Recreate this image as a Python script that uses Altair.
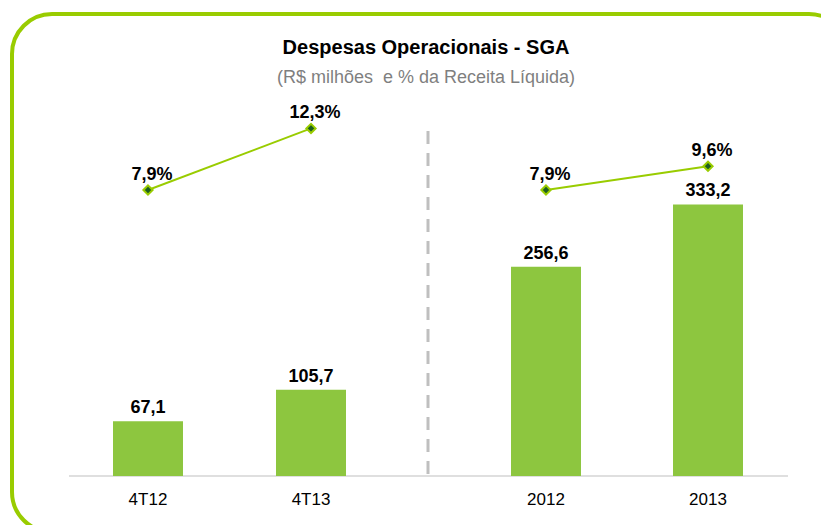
import altair as alt
import pandas as pd

# ---- data ----
periodos_tri = ["4T12", "4T13"]
despesas_tri = [67.1, 105.7]
pct_tri = [7.9, 12.3]

periodos_ano = ["2012", "2013"]
despesas_ano = [256.6, 333.2]
pct_ano = [7.9, 9.6]

titulo = "Despesas Operacionais - SGA"
subtitulo = "(R$ milhões\u00a0 e % da Receita Líquida)"


def fmt(v):
    return f"{v:.1f}".replace(".", ",")


def make_df(periodos, despesas, pcts):
    return pd.DataFrame({
        "periodo": periodos,
        "despesa": despesas,
        "pct": pcts,
        "rot_desp": [fmt(v) for v in despesas],
        "rot_pct": [fmt(v) + "%" for v in pcts],
    })


df_tri = make_df(periodos_tri, despesas_tri, pct_tri)
df_ano = make_df(periodos_ano, despesas_ano, pct_ano)

W, H = 718, 376
BAR_DOMAIN = [0, 461.3]
PCT_DOMAIN = [-12.53, 14.33]
FONT = "Liberation Sans"
BAR_COLOR = "#8DC63F"
LINE_COLOR = "#99CC00"


def group(df, order, xrange, pinner):
    xscale = alt.Scale(type="band", domain=order, range=xrange,
                       paddingInner=pinner, paddingOuter=0)
    x_axis = alt.X(
        "periodo:N", scale=xscale, sort=order, title=None,
        axis=alt.Axis(orient="bottom", labelAngle=0, labelFont=FONT, labelFontSize=17,
                      labelColor="#000000", labelPadding=15, ticks=False,
                      domain=False, grid=False),
    )
    x_na = alt.X("periodo:N", scale=xscale, sort=order, axis=None)
    ybar = alt.Y("despesa:Q", scale=alt.Scale(domain=BAR_DOMAIN, nice=False, zero=True), axis=None)
    ypct = alt.Y("pct:Q", scale=alt.Scale(domain=PCT_DOMAIN, nice=False, zero=False), axis=None)
    base = alt.Chart(df)
    bars = base.mark_bar(color=BAR_COLOR).encode(x=x_axis, y=ybar)
    bar_txt = base.mark_text(baseline="bottom", dy=-4, font=FONT, fontSize=18,
                             fontWeight="bold", color="#000000").encode(
        x=x_na, y=ybar, text="rot_desp:N")
    line = base.mark_line(color=LINE_COLOR, strokeWidth=2).encode(x=x_na, y=ypct)
    pts = base.mark_point(shape="diamond", filled=True, size=85, fill="#1D5E20",
                          stroke=LINE_COLOR, strokeWidth=2, opacity=1).encode(x=x_na, y=ypct)
    pct_txt = base.mark_text(baseline="middle", dx=4, dy=-15, font=FONT, fontSize=18,
                             fontWeight="bold", color="#000000").encode(
        x=x_na, y=ypct, text="rot_pct:N")
    return [bars, bar_txt, line, pts, pct_txt]


deco = pd.DataFrame({"k": [0]})

border = alt.Chart(deco).mark_rect(
    cornerRadius=40, fillOpacity=0, stroke="#99CC00", strokeWidth=4
).encode(x=alt.value(-58), x2=alt.value(779), y=alt.value(-86), y2=alt.value(432))

baseline = alt.Chart(deco).mark_rule(color="#BFBFBF", strokeWidth=1).encode(
    x=alt.value(-1), x2=alt.value(W), y=alt.value(H)
)

separator = alt.Chart(deco).mark_rule(
    color="#BFBFBF", strokeWidth=3, strokeDash=[13, 9]
).encode(x=alt.value(358), y=alt.value(31), y2=alt.value(H))

title_txt = alt.Chart(deco).mark_text(
    text=titulo, font=FONT, fontSize=20, fontWeight="bold", color="#000000",
    align="center", baseline="middle"
).encode(x=alt.value(356), y=alt.value(-52))

sub_txt = alt.Chart(deco).mark_text(
    text=subtitulo, font=FONT, fontSize=18, color="#7F7F7F",
    align="center", baseline="middle"
).encode(x=alt.value(356), y=alt.value(-22))

layers = [border, baseline, separator, title_txt, sub_txt]
layers += group(df_tri, periodos_tri, [43, 276], 0.5706)
layers += group(df_ano, periodos_ano, [441, 673], 0.568)

chart = alt.layer(*layers).resolve_scale(
    x="independent", y="independent"
).properties(
    width=W, height=H,
    autosize=alt.AutoSizeParams(type="none"),
    padding={"left": 62, "top": 92, "right": 33, "bottom": 49},
    background="white",
).configure_view(stroke=None)

chart.save("out.html", embed_options={"renderer": "svg", "actions": False})
